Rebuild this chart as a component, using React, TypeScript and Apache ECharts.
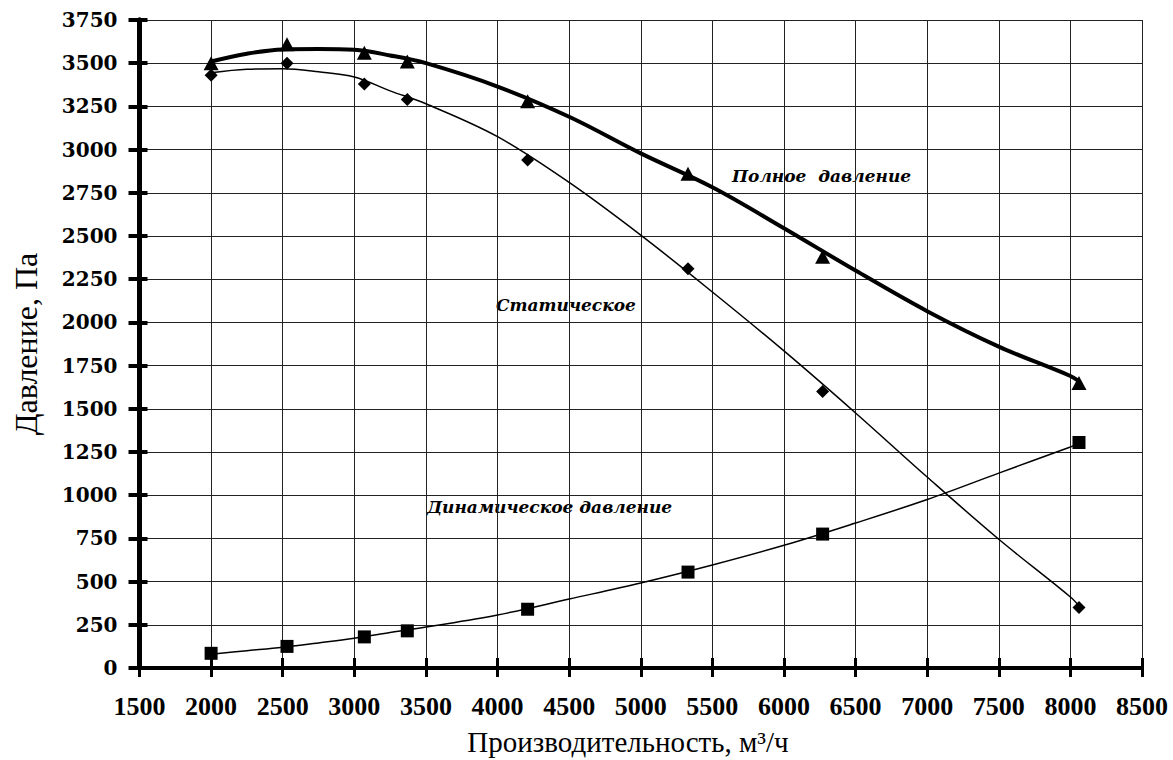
import React, { useEffect, useRef } from 'react';
import * as echarts from 'echarts';

// Measured points (flow, m3/h)
const flowPoints = [2000, 2530, 3070, 3370, 4210, 5330, 6270, 8060];
const totalPressure = [3500, 3610, 3560, 3510, 3280, 2860, 2380, 1650];
const staticPressure = [3430, 3500, 3380, 3290, 2940, 2310, 1600, 350];
const dynamicPressure = [85, 125, 180, 215, 340, 555, 775, 1305];

// Trend curves
const curveFlow = [2000, 2250, 2500, 2750, 3000, 3250, 3500, 4000, 4500, 5000, 5500, 6000, 6500, 7000, 7500, 8000, 8060];
const totalCurve = [3510, 3555, 3580, 3582, 3578, 3545, 3500, 3365, 3190, 2978, 2782, 2545, 2300, 2065, 1860, 1690, 1660];
const staticCurve = [3445, 3465, 3468, 3450, 3420, 3340, 3265, 3075, 2810, 2505, 2176, 1835, 1476, 1105, 745, 411, 360];
const dynamicCurve = [80, 100, 120, 145, 172, 205, 237, 307, 399, 492, 596, 710, 839, 975, 1128, 1279, 1300];

const xTicks = { min: 1500, max: 8500, interval: 500 };
const yTicks = { min: 0, max: 3750, interval: 250 };

const labels = {
  total: 'Полное  давление',
  stat: 'Статическое',
  dyn: 'Динамическое давление',
  xTitle: 'Производительность, м³/ч',
  yTitle: 'Давление, Па',
};

const zip = (xs: number[], ys: number[]) => xs.map((x, i) => [x, ys[i]]);

export default function App() {
  const ref = useRef<HTMLDivElement>(null);
  useEffect(() => {
    if (!ref.current) return;
    const chart = echarts.init(ref.current, null, { renderer: 'svg' });
    const serif = '"Liberation Serif", "Times New Roman", serif';
    const wideSerif = '"DejaVu Serif", serif';
    const plain = (v: number) => String(v);
    const baseX = {
      type: 'value' as const,
      min: xTicks.min,
      max: xTicks.max,
      interval: xTicks.interval,
      position: 'bottom' as const,
    };
    const baseY = {
      type: 'value' as const,
      min: yTicks.min,
      max: yTicks.max,
      interval: yTicks.interval,
      position: 'left' as const,
    };
    const curve = (data: number[][], width: number) => ({
      type: 'line' as const,
      data,
      smooth: 0.35,
      showSymbol: false,
      symbol: 'none',
      lineStyle: { color: '#000', width },
      z: 3,
      silent: true,
    });
    const pts = (data: number[][], symbol: string, size: number | number[]) => ({
      type: 'scatter' as const,
      data,
      symbol,
      symbolSize: size,
      itemStyle: { color: '#000', opacity: 1 },
      z: 4,
    });
    const note = (text: string, x: number, y: number) => ({
      type: 'text',
      x,
      y,
      style: {
        text,
        fill: '#000',
        font: 'italic bold 17px "DejaVu Serif"',
        verticalAlign: 'middle',
        align: 'left',
      },
    });
    chart.setOption({
      animation: false,
      backgroundColor: '#fff',
      textStyle: { fontFamily: serif },
      grid: { left: 139.5, right: 31, top: 20, bottom: 92 },
      xAxis: [
        {
          ...baseX,
          axisLine: { show: true, lineStyle: { color: '#000', width: 4 } },
          axisTick: { show: true, length: 9, inside: false, lineStyle: { color: '#000', width: 3 } },
          axisLabel: { color: '#000', fontFamily: serif, fontWeight: 'bold', fontSize: 26, margin: 25, formatter: plain },
          splitLine: { show: true, lineStyle: { color: '#222', width: 1 } },
        },
        {
          ...baseX,
          axisLine: { show: true, lineStyle: { color: '#000', width: 4 } },
          axisTick: { show: true, length: 10, inside: true, lineStyle: { color: '#000', width: 3 } },
          axisLabel: { show: false },
          splitLine: { show: false },
        },
      ],
      yAxis: [
        {
          ...baseY,
          axisLine: { show: true, lineStyle: { color: '#000', width: 5 } },
          axisTick: { show: true, length: 11, inside: false, lineStyle: { color: '#000', width: 4 } },
          axisLabel: { color: '#000', fontFamily: wideSerif, fontWeight: 'bold', fontSize: 20, margin: 22, formatter: plain },
          splitLine: { show: true, lineStyle: { color: '#222', width: 1 } },
          name: labels.yTitle,
          nameLocation: 'middle',
          nameGap: 98,
          nameRotate: 90,
          nameTextStyle: { color: '#000', fontFamily: serif, fontSize: 32 },
        },
        {
          ...baseY,
          axisLine: { show: true, lineStyle: { color: '#000', width: 5 } },
          axisTick: { show: true, length: 8, inside: true, lineStyle: { color: '#000', width: 4 } },
          axisLabel: { show: false },
          splitLine: { show: false },
        },
      ],
      series: [
        curve(zip(curveFlow, totalCurve), 4),
        curve(zip(curveFlow, staticCurve), 1.5),
        curve(zip(curveFlow, dynamicCurve), 1.5),
        pts(zip(flowPoints, totalPressure), 'triangle', [15, 14]),
        pts(zip(flowPoints, staticPressure), 'diamond', [13, 13]),
        pts(zip(flowPoints, dynamicPressure), 'rect', [13, 13]),
      ],
      graphic: [
        note(labels.total, 732, 176),
        note(labels.stat, 496, 305),
        note(labels.dyn, 427, 507),
        {
          type: 'text',
          x: 628,
          y: 742,
          style: {
            text: labels.xTitle,
            fill: '#000',
            font: '29px "Liberation Serif"',
            verticalAlign: 'middle',
            align: 'center',
          },
        },
      ],
    });
    return () => chart.dispose();
  }, []);
  return (
    <div
      ref={ref}
      style={{ position: 'fixed', left: 0, top: 0, width: 1173, height: 760 }}
    />
  );
}
